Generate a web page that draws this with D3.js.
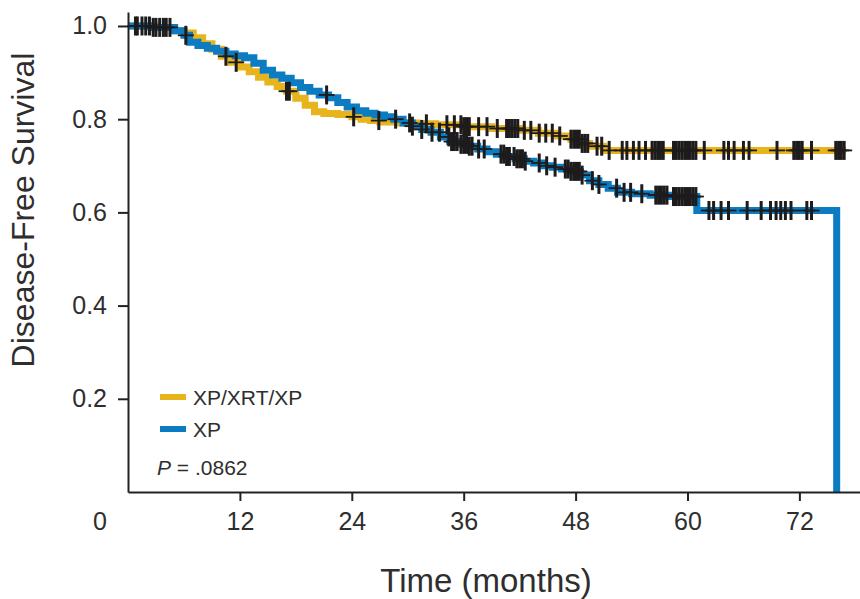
<!DOCTYPE html>
<html lang="en">
<head>
  <meta charset="UTF-8">
  <title>Disease-Free Survival</title>
  <script src="https://d3js.org/d3.v7.min.js"></script>
  <style>
    body { margin: 0; background: #fff; }
    text { font-family: "Liberation Sans", Arial, sans-serif; fill: #2e2e2e; }
  </style>
</head>
<body>
<div id="chart"></div>

<script>
// ====== DATA ======
var monthTicks = [12, 24, 36, 48, 60, 72];
var survTicks = [0.2, 0.4, 0.6, 0.8, 1.0];

// XP/XRT/XP arm (yellow) - step times and survival
var xrtTimes = [0, 3, 5, 6, 7, 8, 9, 10, 11, 12, 13, 14, 15, 16, 17, 18, 19, 20, 21, 22.5, 24, 25, 26, 27, 29, 31, 33, 36, 39, 42, 44, 46, 47.5, 48.5, 49.5, 51, 77];
var xrtSurv  = [1.0, 0.997, 0.99, 0.985, 0.975, 0.962, 0.95, 0.935, 0.922, 0.912, 0.902, 0.89, 0.88, 0.87, 0.86, 0.845, 0.83, 0.816, 0.812, 0.81, 0.805, 0.8, 0.797, 0.794, 0.792, 0.79, 0.788, 0.784, 0.78, 0.776, 0.77, 0.764, 0.757, 0.748, 0.742, 0.733, 0.733];
var xrtCensor = [0.8, 1.5, 2.3, 3.0, 3.8, 4.5, 10.5, 11.6, 17.0, 17.3, 24.2, 26.9, 30.2, 32.0, 34.2, 35.0,
  35.7, 36.0, 36.3, 36.6, 37.6, 38.5, 39.6, 40.6, 40.9, 41.2, 41.5, 41.8, 42.5, 43.2, 44.1, 44.8, 45.5, 46.3,
  47.5, 47.8, 48.1, 48.4, 48.7, 49.0, 49.3, 50.3, 50.8, 51.6, 53.0, 53.5, 54.2, 54.8, 55.5,
  56.2, 56.5, 56.8, 57.1, 57.4, 58.5, 58.8, 59.1, 59.4, 59.7, 60.0, 60.3, 60.6, 60.9,
  61.8, 63.9, 64.4, 65.0, 66.0, 66.6, 69.6, 71.4, 71.7, 72.0, 72.3, 73.3, 75.9, 76.2, 76.5, 76.8];

// XP arm (blue)
var xpTimes = [0, 2.5, 5, 6, 6.6, 7.5, 8.5, 9.5, 10.5, 11.5, 12.5, 13.5, 14.5, 15.5, 16.5, 17.5, 18.5, 19.5, 20.5, 21.5, 22.5, 23.5, 24.5, 25.5, 26.5, 27.5, 28.5, 29.5, 30.5, 31.5, 32.5, 33.5, 34.5, 35.5, 36.5, 37.5, 38.5, 39.5, 40.5, 41.5, 42.5, 43.5, 44.5, 45.5, 46.5, 47.5, 48.5, 49.5, 50.5, 51.5, 52.5, 54, 56, 58, 61, 76];
var xpSurv  = [1.0, 0.997, 0.99, 0.98, 0.965, 0.958, 0.952, 0.946, 0.94, 0.936, 0.932, 0.92, 0.905, 0.895, 0.888, 0.878, 0.868, 0.86, 0.852, 0.846, 0.836, 0.826, 0.818, 0.813, 0.809, 0.805, 0.8, 0.792, 0.785, 0.778, 0.772, 0.762, 0.752, 0.746, 0.742, 0.736, 0.73, 0.725, 0.72, 0.715, 0.71, 0.706, 0.7, 0.697, 0.693, 0.688, 0.68, 0.668, 0.66, 0.652, 0.643, 0.64, 0.637, 0.634, 0.604, 0.0];
var xpCensor = [1.0, 1.9, 2.7, 3.4, 4.1, 6.2, 21.3, 28.7, 30.5, 31.5, 32.6, 33.4, 34.4, 34.7, 35.0, 35.3,
  35.7, 36.0, 36.3, 36.6, 36.9, 37.6, 38.2, 40.0, 40.3, 40.6, 40.9, 41.4, 41.7, 42.0, 42.3, 42.6,
  44.1, 44.9, 45.8, 46.9, 47.2, 47.5, 47.8, 48.1, 48.4, 48.7, 49.8, 50.5, 52.4, 53.2, 53.9, 55.1,
  56.6, 56.9, 57.2, 57.5, 57.8, 58.5, 58.8, 59.1, 59.4, 59.7, 60.0, 60.3, 60.6, 60.9,
  62.3, 62.8, 63.6, 64.4, 66.4, 67.9, 68.9, 69.5, 70.0, 70.5, 71.1, 72.8, 73.3];

var seriesNames = ["XP/XRT/XP", "XP"];
var seriesColors = ["#e8b41e", "#0b7cc1"];

/* ========== SVG ========== */
var width = 860, height = 599;
var svg = d3.select("#chart").append("svg")
  .attr("width", width)
  .attr("height", height);

var x = d3.scaleLinear().domain([0, 78.5]).range([128, 860]);
var y = d3.scaleLinear().domain([0, 1.03]).range([492, 12]);

/* ========== Curves ========== */
function toPoints(times, surv) {
  return times.map(function(t, i) { return [t, surv[i]]; });
}
function survAt(times, surv, t) {
  var i = d3.bisectRight(times, t) - 1;
  return surv[Math.max(0, i)];
}

var line = d3.line()
  .x(function(d) { return x(d[0]); })
  .y(function(d) { return y(d[1]); })
  .curve(d3.curveStepAfter);

var arms = [
  {times: xrtTimes, surv: xrtSurv, censor: xrtCensor, color: seriesColors[0]},
  {times: xpTimes, surv: xpSurv, censor: xpCensor, color: seriesColors[1]}
];

arms.forEach(function(a) {
  svg.append("path")
    .datum(toPoints(a.times, a.surv))
    .attr("fill", "none")
    .attr("stroke", a.color)
    .attr("stroke-width", 7)
    .attr("d", line);
});

// censor crosses
arms.forEach(function(a) {
  var g = svg.append("g").attr("stroke", "#1e1b1c");
  var marks = g.selectAll("g.cens")
    .data(a.censor)
    .enter().append("g")
    .attr("class", "cens")
    .attr("transform", function(t) {
      return "translate(" + x(t) + "," + y(survAt(a.times, a.surv, t)) + ")";
    });
  marks.append("line").attr("x1", 0).attr("x2", 0).attr("y1", -9.5).attr("y2", 9.5).attr("stroke-width", 3);
  marks.append("line").attr("x1", -8).attr("x2", 8).attr("y1", 0).attr("y2", 0).attr("stroke-width", 1.8);
});

/* ========== Axes ========== */
var xAxis = svg.append("g")
  .attr("transform", "translate(0," + y(0) + ")")
  .call(d3.axisBottom(x).tickValues(monthTicks).tickSize(9).tickSizeOuter(0).tickPadding(11));

var yAxis = svg.append("g")
  .attr("transform", "translate(" + x(0) + ",0)")
  .call(d3.axisLeft(y).tickValues(survTicks).tickSize(10).tickSizeOuter(0).tickPadding(11).tickFormat(d3.format(".1f")));

[xAxis, yAxis].forEach(function(ax) {
  ax.select(".domain").attr("stroke", "#222").attr("stroke-width", 2);
  ax.selectAll(".tick line").attr("stroke", "#222").attr("stroke-width", 2);
  ax.selectAll(".tick text").attr("font-size", 25).attr("font-family", null).attr("fill", "#2e2e2e");
});

// shared origin label
svg.append("text")
  .attr("x", x(0) - 28)
  .attr("y", y(0) + 20)
  .attr("dy", "0.71em")
  .attr("text-anchor", "middle")
  .attr("font-size", 25)
  .text("0");

/* ========== Titles ========== */
svg.append("text")
  .attr("x", 486)
  .attr("y", 592)
  .attr("text-anchor", "middle")
  .attr("font-size", 33)
  .text("Time (months)");

svg.append("text")
  .attr("transform", "translate(34,210) rotate(-90)")
  .attr("text-anchor", "middle")
  .attr("font-size", 32)
  .text("Disease-Free Survival");

/* ========== Legend ========== */
var legend = svg.append("g").attr("transform", "translate(160,397)");
seriesNames.forEach(function(name, i) {
  legend.append("rect")
    .attr("x", 0).attr("y", i * 32 - 3)
    .attr("width", 26).attr("height", 6)
    .attr("fill", seriesColors[i]);
  legend.append("text")
    .attr("x", 33).attr("y", i * 32 + 8)
    .attr("font-size", 21)
    .text(name);
});
var pText = legend.append("text")
  .attr("x", -3).attr("y", 78)
  .attr("font-size", 21);
pText.append("tspan").attr("font-style", "italic").text("P");
pText.append("tspan").text(" = .0862");
</script>
</body>
</html>
